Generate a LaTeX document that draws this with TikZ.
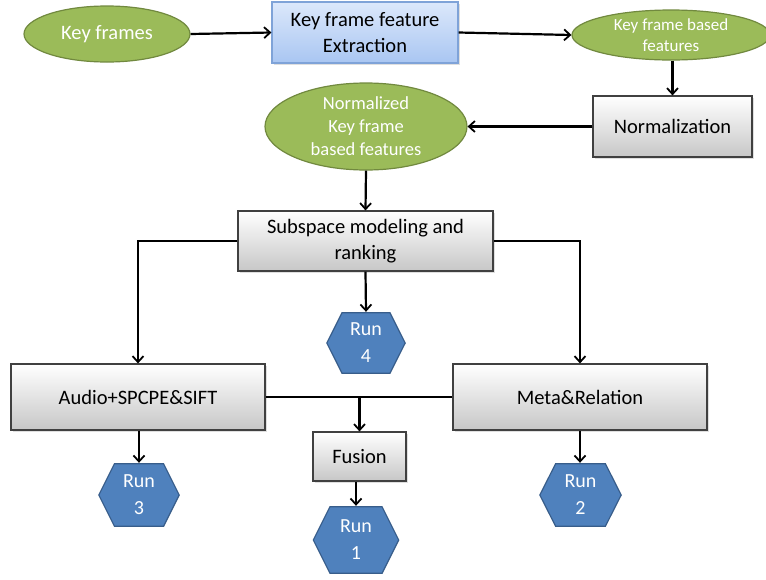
\documentclass[tikz,border=0pt]{standalone}
\usepackage{fontspec}
\setmainfont{Carlito}
\usetikzlibrary{arrows.meta,shapes.geometric,shadows,calc}
\definecolor{greenfill}{HTML}{9BBB59}
\definecolor{greenline}{HTML}{71893F}
\definecolor{bluefill}{HTML}{4F81BD}
\definecolor{blueline}{HTML}{385D8A}
\definecolor{grayline}{HTML}{404040}
\definecolor{lbtop}{HTML}{DCE8FB}
\definecolor{lbbot}{HTML}{A9C6F2}
\definecolor{lbline}{HTML}{7FA3D8}
\tikzset{
  ell/.style={ellipse, draw=greenline, line width=1.2pt, fill=greenfill, text=white, align=center, inner sep=0pt},
  graybox/.style={rectangle, draw=grayline, line width=1.2pt, top color=white, bottom color=black!22, align=center, inner sep=0pt,
    drop shadow={shadow xshift=1.5pt, shadow yshift=-1.5pt, opacity=0.25}},
  bluebox/.style={rectangle, draw=lbline, line width=1.2pt, top color=lbtop, bottom color=lbbot, align=center, inner sep=0pt,
    drop shadow={shadow xshift=1.5pt, shadow yshift=-1.5pt, opacity=0.25}},
  hexnode/.style={rectangle, draw=none, text=white, align=center, inner sep=0pt,
    font=\fontsize{20}{27}\selectfont,
    path picture={
      \path[fill=bluefill, draw=blueline, line width=1.2pt]
        ($(path picture bounding box.west)+(0.8pt,0)$)
        -- ($(path picture bounding box.north west)!0.2!(path picture bounding box.north east)+(0,-0.8pt)$)
        -- ($(path picture bounding box.north west)!0.8!(path picture bounding box.north east)+(0,-0.8pt)$)
        -- ($(path picture bounding box.east)+(-0.8pt,0)$)
        -- ($(path picture bounding box.south west)!0.8!(path picture bounding box.south east)+(0,0.8pt)$)
        -- ($(path picture bounding box.south west)!0.2!(path picture bounding box.south east)+(0,0.8pt)$)
        -- cycle;
    }},
  conn/.style={line width=2.2pt, draw=black},
  arr/.style={conn, -{Straight Barb[length=6pt,width=11pt,line width=1.8pt]}},
  big/.style={font=\fontsize{20.5}{26}\selectfont},
}
\begin{document}
\begin{tikzpicture}[x=1pt,y=-1pt]
\useasboundingbox (0,0) rectangle (766,579);
% nodes
\node[ell, big, minimum width=166pt, minimum height=56pt] (kf) at (107,34) {Key frames};
\node[bluebox, big, minimum width=186pt, minimum height=61pt] (kfe) at (365,32.5) {Key frame feature\\Extraction};
\node[ell, font=\fontsize{17}{21}\selectfont, minimum width=198pt, minimum height=50pt] (kfb) at (671,35) {Key frame based\\features};
\node[graybox, big, minimum width=159pt, minimum height=61pt] (norm) at (672.5,126.5) {Normalization};
\node[ell, font=\fontsize{18.5}{23}\selectfont, minimum width=202pt, minimum height=87pt] (nkf) at (366,126.5) {Normalized\\Key frame\\based features};
\node[graybox, big, minimum width=255pt, minimum height=60pt] (sub) at (365.5,241) {Subspace modeling and\\ranking};
\node[hexnode, minimum width=80pt, minimum height=62pt] (r4) at (366,343) {Run\\4};
\node[graybox, big, minimum width=254pt, minimum height=66pt] (aud) at (138,397) {Audio+SPCPE\&SIFT};
\node[graybox, big, minimum width=254pt, minimum height=66pt] (meta) at (580,397) {Meta\&Relation};
\node[graybox, big, minimum width=93pt, minimum height=49pt] (fus) at (359.5,456.5) {Fusion};
\node[hexnode, minimum width=87pt, minimum height=68pt] (r1) at (356,540) {Run\\1};
\node[hexnode, minimum width=82pt, minimum height=64pt] (r3) at (139,495) {Run\\3};
\node[hexnode, minimum width=83pt, minimum height=64pt] (r2) at (580.5,495) {Run\\2};
% junction coordinate
\coordinate (j) at (fus.north |- aud.east);
% connectors
\draw[arr] (kf.east) -- (kfe.west);
\draw[arr] (kfe.east) -- (kfb.west);
\draw[arr] (kfb.south -| norm.north) -- (norm.north);
\draw[arr] (norm.west) -- (nkf.east);
\draw[arr] (nkf.south) -- (sub.north);
\draw[arr] (sub.west) -| (aud.north);
\draw[arr] (sub.east) -| (meta.north);
\draw[arr] (sub.south) -- (r4.north);
\draw[conn] (aud.east) -- (meta.west);
\draw[arr] (j) -- (fus.north);
\draw[arr] (fus.south -| r1.north) -- (r1.north);
\draw[arr] (aud.south -| r3.north) -- (r3.north);
\draw[arr] (meta.south) -- (meta.south |- r2.north);
\end{tikzpicture}
\end{document}
